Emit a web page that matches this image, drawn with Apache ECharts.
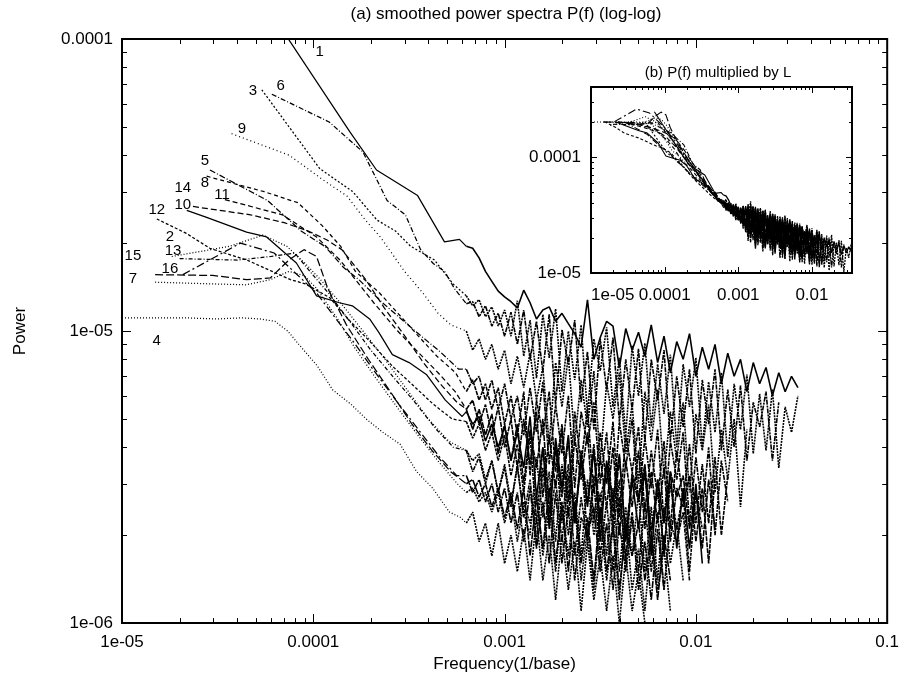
<!DOCTYPE html>
<html><head><meta charset="utf-8">
<script src="https://cdn.jsdelivr.net/npm/echarts@6/dist/echarts.min.js"></script>
<style>html,body{margin:0;padding:0;background:#fff}#c{width:902px;height:678px}</style>
</head><body><div id="c"></div>
<script>
// ---------------- DATA ----------------
const TAIL_UNIT = 1e-7;
const TAIL_F = [6.310e-4,6.813e-4,7.356e-4,7.943e-4,8.577e-4,9.261e-4,
1.000e-3,1.080e-3,1.166e-3,1.259e-3,1.359e-3,1.468e-3,1.585e-3,1.711e-3,1.848e-3,1.995e-3,2.154e-3,2.326e-3,2.512e-3,2.712e-3,2.929e-3,3.162e-3,3.415e-3,3.687e-3,3.981e-3,4.299e-3,4.642e-3,5.012e-3,5.412e-3,5.843e-3,6.310e-3,6.813e-3,7.356e-3,7.943e-3,8.577e-3,9.261e-3,
1.000e-2,1.080e-2,1.166e-2,1.259e-2,1.359e-2,1.468e-2,1.585e-2,1.711e-2,1.848e-2,1.995e-2,2.154e-2,2.326e-2,2.512e-2,2.712e-2,2.929e-2,3.162e-2,3.415e-2];

const head1 = [[7.26e-5,1.02e-4],[1.55e-4,4.82e-5],[2.14e-4,3.56e-5],[3.51e-4,2.91e-5],[4.85e-4,2.02e-5],[5.81e-4,2.06e-5]];
const tail1 = [195,192,178,160,148,137,131,126,120,138,125,110,118,121,108,115,106,98,88,128,80,95,108,104,75,102,86,99,82,105,78,96,72,92,80,98,70,88,74,90,66,84,70,80,62,78,66,75,60,72,62,70,64];
const head2 = [[1.82e-5,1.8e-5],[3.64e-5,1.95e-5],[5.46e-5,2.13e-5],[7.28e-5,1.95e-5],[9.1e-5,1.7e-5],[1.09e-4,1.5e-5],[1.46e-4,1.2e-5],[1.82e-4,1.0e-5],[2.37e-4,8.0e-6],[3.09e-4,6.3e-6],[4.0e-4,5.0e-6],[5.1e-4,4.2e-6]];
const tail2 = [39,36,38,31,36,28,35,26,34,24,20,37,23,33,19,35,20,28,17,31,20,28,17,29,15,25,17,28,15,25,14,25,16,22,14];
const head3 = [[5.38e-5,6.7e-5],[1.08e-4,3.6e-5],[1.61e-4,3.0e-5],[2.15e-4,2.4e-5],[2.69e-4,2.2e-5],[3.23e-4,1.95e-5],[4.3e-4,1.75e-5],[5.38e-4,1.45e-5]];
const tail3 = [132,122,128,112,121,104,118,96,127,82,109,69,114,81,119,62,100,68,105,52,94,73,103,55,81,44,89,60,91,47,77,52,83,40,77,55,81,40,67,45,72,37,66,46,71,38,61,39,63,34,55,45,60];
const head4 = [[1.0e-5,1.11e-5],[2.1e-5,1.11e-5],[3.15e-5,1.1e-5],[4.2e-5,1.11e-5],[5.25e-5,1.1e-5],[6.3e-5,1.08e-5],[7.35e-5,1.0e-5],[8.4e-5,9.0e-6],[1.05e-4,7.6e-6],[1.26e-4,6.3e-6],[1.58e-4,5.6e-6],[1.89e-4,5.0e-6],[2.31e-4,4.5e-6],[2.84e-4,4.1e-6],[3.47e-4,3.3e-6],[4.2e-4,2.9e-6],[5.15e-4,2.4e-6],[5.88e-4,2.3e-6]];
const tail4 = [22,24,19,22,17,22,16,20,15,21,14,23,14,20,12,20,13,19,11,19,12,17,11,17,10,17,11,15,10];
const head5 = [[2.88e-5,3.56e-5],[5.76e-5,2.8e-5],[8.64e-5,2.2e-5],[1.15e-4,1.95e-5],[1.44e-4,1.65e-5],[1.73e-4,1.5e-5],[2.3e-4,1.25e-5],[2.88e-4,1.1e-5],[3.74e-4,9.5e-6],[4.6e-4,8.5e-6],[5.76e-4,7.4e-6]];
const tail5 = [74,66,70,58,68,54,66,50,60,44,64,45,67,35,56,38,60,29,53,41,57,30,45,24,49,34,50,26,43,29,46,22,42,31,45,22,37,24,40,20,36,26];
const head6 = [[6.07e-5,6.47e-5],[1.21e-4,5.2e-5],[1.82e-4,4.1e-5],[2.43e-4,2.8e-5],[3.03e-4,2.5e-5],[3.64e-4,1.9e-5],[4.25e-4,1.7e-5],[4.86e-4,1.6e-5],[5.46e-4,1.4e-5]];
const tail6 = [124,126,112,122,104,115,96,116,90,118,80,108,73,114,56,101,77,109,57,85,46,94,63,95,49,80,54,87,42,80,58,86,42,70,47,74,38,68,48,74,39,63,40,65,36,57,47,62,36,57];
const head7 = [[1.49e-5,1.47e-5],[2.98e-5,1.45e-5],[4.47e-5,1.44e-5],[5.96e-5,1.5e-5],[7.45e-5,1.6e-5],[8.94e-5,1.55e-5],[1.04e-4,1.4e-5],[1.34e-4,1.1e-5],[1.64e-4,8.8e-6],[2.09e-4,7.0e-6],[2.68e-4,5.6e-6],[3.43e-4,4.5e-6],[4.47e-4,3.6e-6],[5.66e-4,3.0e-6]];
const tail7 = [28,29,26,28,24,28,22,27,19,26,22,28,17,25,15,25,17,26,14,21,13,23,14,21,12,23,13,18,11,20,13,18,11];
const head8 = [[2.77e-5,3.39e-5],[5.54e-5,3.0e-5],[8.31e-5,2.75e-5],[1.11e-4,2.3e-5],[1.39e-4,1.95e-5],[1.66e-4,1.6e-5],[2.22e-4,1.35e-5],[2.77e-4,1.15e-5],[3.6e-4,9.5e-6],[4.43e-4,8.2e-6],[5.54e-4,7.2e-6]];
const tail8 = [62,68,58,66,54,64,48,60,44,62,32,58,44,62,33,48,26,53,35,54,28,45,30,49,23,44,33,47,24,39,27,42,21,39,26,41,22,35,22,37,20,32];
const head9 = [[3.74e-5,4.74e-5],[7.48e-5,4.0e-5],[1.12e-4,3.3e-5],[1.5e-4,2.9e-5],[1.87e-4,2.4e-5],[2.24e-4,2.1e-5],[3.0e-4,1.6e-5],[3.74e-4,1.35e-5],[4.49e-4,1.15e-5],[5.24e-4,1.05e-5]];
const tail9 = [100,86,94,80,90,74,86,66,82,64,84,58,75,41,78,55,82,42,68,47,73,36,66,50,72,38,56,30,62,42,63,32,53,36,57,28,52,39,56,28,46,31,50,25,46];
const head10 = [[2.18e-5,2.59e-5],[2.77e-5,2.45e-5],[4.48e-5,2.18e-5],[5.7e-5,2.1e-5],[8.16e-5,1.71e-5],[1.04e-4,1.32e-5],[1.37e-4,1.25e-5],[1.6e-4,1.22e-5],[1.97e-4,1.1e-5],[2.2e-4,9.9e-6],[2.59e-4,8.3e-6],[3.17e-4,7.8e-6],[3.9e-4,7.1e-6],[4.9e-4,5.8e-6],[6.0e-4,5.1e-6]];
const tail10 = [53,48,51,42,48,40,47,36,45,34,51,27,40,21,43,29,44,22,36,25,39,19,36,26,38,19,31,21,34,17,31,22,33,18,29,18,30,16];
const head11 = [[3.45e-5,2.82e-5],[6.9e-5,2.5e-5],[1.04e-4,2.1e-5],[1.38e-4,1.75e-5],[1.73e-4,1.45e-5],[2.07e-4,1.25e-5],[2.76e-4,1.0e-5],[3.45e-4,8.6e-6],[4.49e-4,7.2e-6],[5.52e-4,6.2e-6]];
const tail11 = [54,58,48,56,44,55,40,50,34,50,35,53,27,44,29,46,23,43,31,45,22,37,25,40,20,36,25,39,21,33,22,34,19,29,25,32,19,29,16,32];
const head12 = [[1.52e-5,2.42e-5],[2.17e-5,2.16e-5],[2.88e-5,1.92e-5],[4.5e-5,1.75e-5],[6.1e-5,1.6e-5],[7.6e-5,1.5e-5],[9.1e-5,1.45e-5],[1.22e-4,1.3e-5],[1.52e-4,1.1e-5],[1.98e-4,9.2e-6],[2.58e-4,7.6e-6],[3.34e-4,6.5e-6],[4.26e-4,5.6e-6],[5.32e-4,5.0e-6]];
const tail12 = [49,43,48,39,45,36,44,32,41,28,44,22,40,27,41,22,35,22,37,20,32,26,35,20,31,16,33,27,32,21,28,18,30,21,28,15,28,21];
const head13 = [[2.0e-5,1.77e-5],[4.0e-5,1.75e-5],[6.0e-5,1.8e-5],[8.0e-5,1.85e-5],[1.0e-4,1.55e-5],[1.2e-4,1.35e-5],[1.6e-4,1.05e-5],[2.0e-4,8.6e-6],[2.6e-4,7.0e-6],[3.4e-4,5.7e-6],[4.4e-4,4.6e-6],[5.4e-4,4.0e-6]];
const tail13 = [39,33,37,30,36,28,34,25,35,23,31,19,34,22,31,19,32,17,27,19,30,17,26,15,27,17,24,15,26,15,24,13,22,19,24,14];
const head14 = [[2.35e-5,2.67e-5],[4.7e-5,2.5e-5],[7.05e-5,2.35e-5],[9.4e-5,2.2e-5],[1.18e-4,2.05e-5],[1.41e-4,1.9e-5],[1.88e-4,1.5e-5],[2.35e-4,1.2e-5],[3.05e-4,9.5e-6],[3.76e-4,7.8e-6],[4.7e-4,6.5e-6],[5.64e-4,5.7e-6]];
const tail14 = [54,46,54,44,52,38,48,36,48,30,46,34,50,24,40,27,43,22,39,26,41,22,35,22,37,20,32,26,35,20,31,17,33,27,32,21,28,18,31,21];
const head15 = [[1.49e-5,1.56e-5],[2.98e-5,1.55e-5],[4.47e-5,1.5e-5],[5.96e-5,1.52e-5],[7.45e-5,1.75e-5],[8.94e-5,1.9e-5],[1.04e-4,1.8e-5],[1.19e-4,1.4e-5],[1.49e-4,1.05e-5],[1.94e-4,8.0e-6],[2.53e-4,6.2e-6],[3.28e-4,4.8e-6],[4.17e-4,3.9e-6],[5.22e-4,3.3e-6]];
const tail15 = [30,31,27,30,25,29,23,28,21,29,17,27,18,29,16,26,15,26,16,23,14,25,15,22,13,21,17,22,14,20,12,20,14];
const head16 = [[2.08e-5,1.56e-5],[4.16e-5,2.0e-5],[6.24e-5,1.85e-5],[8.32e-5,1.55e-5],[1.04e-4,1.35e-5],[1.25e-4,1.15e-5],[1.66e-4,9.0e-6],[2.08e-4,7.3e-6],[2.7e-4,5.8e-6],[3.54e-4,4.6e-6],[4.58e-4,3.7e-6],[5.62e-4,3.2e-6]];
const tail16 = [32,28,31,26,30,24,29,22,28,19,29,18,26,16,28,16,25,14,23,20,25,15,22,13,22,15,23,13,19,12,21,13];

// series names and the length factor L used for panel (b)
const SERIES_NAMES = ['1','2','3','4','5','6','7','8','9','10','11','12','13','14','15','16'];
const L_VALUES = [2.4,10.4,3.0,18,5.6,3.1,13.6,5.9,4.2,7.7,7.1,8.3,10.8,7.5,12.8,12.9];

// curve number labels (anchor in data coordinates)
const LABEL_TEXT = ['1','3','6','9','5','8','14','11','10','12','2','13','15','16','7','4'];
const LABEL_F = [1.08e-4,4.83e-5,6.76e-5,4.23e-5,2.71e-5,2.71e-5,2.08e-5,3.33e-5,2.08e-5,1.52e-5,1.78e-5,1.85e-5,1.14e-5,1.78e-5,1.14e-5,1.52e-5];
const LABEL_P = [9.04e-5,6.63e-5,6.89e-5,4.93e-5,3.82e-5,3.22e-5,3.10e-5,2.93e-5,2.71e-5,2.59e-5,2.10e-5,1.88e-5,1.81e-5,1.63e-5,1.51e-5,9.29e-6];

// ---------------- STYLE ----------------
const HEADS = [head1,head2,head3,head4,head5,head6,head7,head8,head9,head10,head11,head12,head13,head14,head15,head16];
const TAILS = [tail1,tail2,tail3,tail4,tail5,tail6,tail7,tail8,tail9,tail10,tail11,tail12,tail13,tail14,tail15,tail16];
const DASH = ['solid',[1,2],[2,2],[1,2],[6,2,1,2],[5,2,1,2],[1,2],[4,3],[1,3],'solid',[5,3],[3,2],[4,2,1,2],[6,3],[8,3],[8,3,2,3]];
const TAIL_DASH = ['solid',[2,1],[2,1],[2,1],[5,1,2,1],[5,1,2,1],[2,1],[4,1],[2,1],'solid',[5,1],[3,1],[4,1,2,1],[6,1],[7,1],[7,1,2,1]];
const FONT = '"Liberation Sans", Arial, Helvetica, sans-serif';

function headPts(i, scale) {
  const pts = HEADS[i].map(p => [p[0], p[1] * scale]);
  pts.push([TAIL_F[0], TAILS[i][0] * TAIL_UNIT * scale]);
  return pts;
}
function tailPts(i, scale) {
  return TAILS[i].map((v, k) => [TAIL_F[k], v * TAIL_UNIT * scale]);
}
function fmtLog(v) {
  const e = Math.log10(v), r = Math.round(e);
  if (Math.abs(e - r) > 1e-6) return '';
  if (r <= -5) return '1e-' + String(-r).padStart(2, '0');
  return String(Number(Math.pow(10, r).toFixed(Math.max(0, -r))));
}

const series = [];
const base = { type: 'line', showSymbol: false, symbol: 'none', animation: false, clip: true };
SERIES_NAMES.forEach((name, i) => {
  series.push(Object.assign({ name: 'a' + name, xAxisIndex: 0, yAxisIndex: 0, data: headPts(i, 1), z: 2,
    lineStyle: { color: '#000', width: 1.25, type: DASH[i] } }, base));
  series.push(Object.assign({ name: 'a' + name, xAxisIndex: 0, yAxisIndex: 0, data: tailPts(i, 1), z: 2,
    lineStyle: { color: '#000', width: 1.6, type: TAIL_DASH[i] } }, base));
  series.push(Object.assign({ name: 'b' + name, xAxisIndex: 1, yAxisIndex: 1, data: headPts(i, L_VALUES[i]), zlevel: 1, z: 5,
    lineStyle: { color: '#000', width: 1.1, type: DASH[i] } }, base));
  series.push(Object.assign({ name: 'b' + name, xAxisIndex: 1, yAxisIndex: 1, data: tailPts(i, L_VALUES[i]), zlevel: 1, z: 5,
    lineStyle: { color: '#000', width: 1.3, type: TAIL_DASH[i] } }, base));
});

const axisTxt = { color: '#000', fontSize: 17, fontFamily: FONT };
const TITLES = [
  { type: 'text', id: 't1', x: 506, y: 14, style: { text: '(a) smoothed power spectra P(f) (log-log)', fill: '#000', font: '17px ' + FONT, textAlign: 'center', textVerticalAlign: 'middle' } },
  { type: 'text', id: 't2', x: 718, y: 73, zlevel: 1, style: { text: '(b) P(f) multiplied by L', fill: '#000', font: '15px ' + FONT, textAlign: 'center', textVerticalAlign: 'middle' } }
];
const option = {
  backgroundColor: '#fff',
  animation: false,
  grid: [
    { left: 122, top: 39, width: 768, height: 593, show: true, borderColor: '#000', borderWidth: 2, backgroundColor: 'transparent' },
    { left: 591, top: 87, width: 261, height: 186, show: true, borderColor: '#000', borderWidth: 2, backgroundColor: '#fff', zlevel: 1 }
  ],
  xAxis: [
    { type: 'log', logBase: 10, gridIndex: 0, min: 1e-5, max: 0.1,
      axisLine: { show: false }, axisTick: { show: false }, splitLine: { show: false },
      axisLabel: Object.assign({ formatter: fmtLog, margin: 11 }, axisTxt),
      name: 'Frequency(1/base)', nameLocation: 'middle', nameGap: 27, nameTextStyle: { color: '#000', fontSize: 17, fontFamily: FONT } },
    { type: 'log', logBase: 10, gridIndex: 1, min: 1e-5, max: 0.035, zlevel: 1,
      axisLine: { show: false }, axisTick: { show: false }, splitLine: { show: false },
      axisLabel: Object.assign({ formatter: fmtLog, margin: 14, alignMinLabel: 'left' }, axisTxt) }
  ],
  yAxis: [
    { type: 'log', logBase: 10, gridIndex: 0, min: 1e-6, max: 1e-4,
      axisLine: { show: false }, axisTick: { show: false }, splitLine: { show: false },
      axisLabel: Object.assign({ formatter: fmtLog, margin: 9 }, axisTxt),
      name: 'Power', nameLocation: 'middle', nameGap: 93, nameTextStyle: { color: '#000', fontSize: 17, fontFamily: FONT } },
    { type: 'log', logBase: 10, gridIndex: 1, min: 1e-5, max: 4e-4, zlevel: 1,
      axisLine: { show: false }, axisTick: { show: false }, splitLine: { show: false },
      axisLabel: Object.assign({ formatter: fmtLog, margin: 10 }, axisTxt) }
  ],
  series: series
};
const chart = echarts.init(document.getElementById('c'), null, { renderer: 'canvas' });
chart.setOption(option);

// axis ticks (gnuplot style: inward, on all four sides, log minor ticks), positioned through the axes
function tickValues(lo, hi) {
  const out = [];
  for (let e = Math.floor(Math.log10(lo)); e <= Math.ceil(Math.log10(hi)); e++) {
    for (let m = 1; m <= 9; m++) {
      const v = m * Math.pow(10, e);
      if (v < lo * 0.9999 || v > hi * 1.0001) continue;
      out.push([v, m === 1]);
    }
  }
  return out;
}
function tickGraphics(gi, xr, yr, lenMaj, lenMin, zl) {
  const els = [];
  const f = { gridIndex: gi };
  const pA = chart.convertToPixel(f, [xr[0], yr[0]]);
  const pB = chart.convertToPixel(f, [xr[1], yr[1]]);
  const left = pA[0], right = pB[0], bottom = pA[1], top = pB[1];
  const st = { stroke: '#000', lineWidth: 1 };
  tickValues(xr[0], xr[1]).forEach(([v, maj]) => {
    const x = Math.round(chart.convertToPixel(f, [v, yr[0]])[0]) + 0.5;
    const L = maj ? lenMaj : lenMin;
    els.push({ type: 'line', zlevel: zl, z: 50, shape: { x1: x, y1: bottom, x2: x, y2: bottom - L }, style: st });
    els.push({ type: 'line', zlevel: zl, z: 50, shape: { x1: x, y1: top, x2: x, y2: top + L }, style: st });
  });
  tickValues(yr[0], yr[1]).forEach(([v, maj]) => {
    const y = Math.round(chart.convertToPixel(f, [xr[0], v])[1]) + 0.5;
    const L = maj ? lenMaj : lenMin;
    els.push({ type: 'line', zlevel: zl, z: 50, shape: { x1: left, y1: y, x2: left + L, y2: y }, style: st });
    els.push({ type: 'line', zlevel: zl, z: 50, shape: { x1: right, y1: y, x2: right - L, y2: y }, style: st });
  });
  return els;
}
// curve number labels placed through the main axes
const labelEls = LABEL_TEXT.map((t, i) => {
  const p = chart.convertToPixel({ gridIndex: 0 }, [LABEL_F[i], LABEL_P[i]]);
  return { type: 'text', z: 60, x: p[0], y: p[1], style: { text: t, fill: '#000', font: '15px ' + FONT, textAlign: 'center', textVerticalAlign: 'middle' } };
});
const ticks = tickGraphics(0, [1e-5, 0.1], [1e-6, 1e-4], 9, 5, 0)
  .concat(tickGraphics(1, [1e-5, 0.035], [1e-5, 4e-4], 6, 3, 1));
chart.setOption({ graphic: TITLES.concat(labelEls, ticks) });
</script></body></html>
